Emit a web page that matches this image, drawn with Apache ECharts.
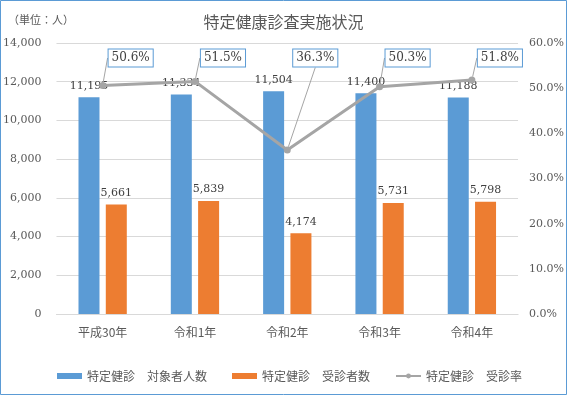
<!DOCTYPE html>
<html><head><meta charset="utf-8">
<script src="https://cdn.jsdelivr.net/npm/echarts@6/dist/echarts.min.js"></script>
<style>html,body{margin:0;padding:0;background:#fff}#c{width:567px;height:395px}</style>
</head><body><div id="c"></div>
<script>
const categories = ['平成30年','令和1年','令和2年','令和3年','令和4年'];
const targetCounts = [11195, 11334, 11504, 11400, 11188];
const examinedCounts = [5661, 5839, 4174, 5731, 5798];
const examRates = [0.506, 0.515, 0.363, 0.503, 0.518];
const seriesNames = ['特定健診　対象者人数','特定健診　受診者数','特定健診　受診率'];

const NUMF = "'DejaVu Serif','Noto Sans CJK JP'";
const JPF = "'Noto Sans CJK JP'";
const TXT = '#595959';

const chart = echarts.init(document.getElementById('c'), null, {renderer:'canvas'});
chart.setOption({
  animation:false,
  backgroundColor:'#fff',
  title:{text:'特定健康診査実施状況', left:'center', top:9,
    textStyle:{fontFamily:JPF, fontSize:16, fontWeight:'normal', color:TXT}},
  graphic:[
    {type:'rect', shape:{x:0.5,y:0.5,width:566,height:394}, style:{fill:null, stroke:'#5b9bd5', lineWidth:1}, silent:true},
    {type:'text', left:8, top:14, style:{text:'（単位：人）', font:"11px 'Noto Sans CJK JP'", fill:TXT}}
  ],
  grid:{left:53, right:46, top:43, bottom:81},
  legend:{bottom:8, left:52, itemGap:25, itemWidth:25, itemHeight:6,
    textStyle:{fontFamily:JPF, fontSize:12, color:TXT},
    data:[{name:seriesNames[0], icon:'rect'},{name:seriesNames[1], icon:'rect'},{name:seriesNames[2]}]},
  xAxis:{type:'category', data:categories,
    axisLine:{lineStyle:{color:'#d9d9d9'}}, axisTick:{show:false},
    axisLabel:{fontFamily:JPF, fontSize:12, color:TXT, margin:12}},
  yAxis:[
    {type:'value', min:0, max:14000, interval:2000,
     axisLabel:{fontFamily:NUMF, fontSize:11, color:TXT, margin:15,
       formatter:v=>v.toLocaleString('en-US')},
     splitLine:{lineStyle:{color:'#d9d9d9'}}, axisLine:{show:false}, axisTick:{show:false}},
    {type:'value', min:0, max:0.6, interval:0.1, position:'right',
     axisLabel:{fontFamily:NUMF, fontSize:11, color:TXT, margin:11,
       formatter:v=>(v*100).toFixed(1)+'%'},
     splitLine:{show:false}, axisLine:{show:false}, axisTick:{show:false}}
  ],
  series:[
    {name:seriesNames[0], type:'bar', data:targetCounts, barWidth:21, barGap:'30%',
     itemStyle:{color:'#5b9bd5'},
     label:{show:true, position:'top', distance:6, fontFamily:NUMF, fontSize:11, color:'#404040',
       formatter:p=>p.value.toLocaleString('en-US')}},
    {name:seriesNames[1], type:'bar', data:examinedCounts, barWidth:21,
     itemStyle:{color:'#ed7d31'},
     label:{show:true, position:'top', distance:6, fontFamily:NUMF, fontSize:11, color:'#404040',
       formatter:p=>p.value.toLocaleString('en-US')}},
    {name:seriesNames[2], type:'line', yAxisIndex:1, data:examRates, z:5,
     symbol:'circle', symbolSize:7,
     lineStyle:{color:'#a5a5a5', width:3}, itemStyle:{color:'#a5a5a5'},
     label:{show:true, position:'top', fontFamily:NUMF, fontSize:12, color:'#404040',
       backgroundColor:'#fff', borderColor:'#5b9bd5', borderWidth:1, padding:[3,3,2,3],
       formatter:p=>(p.value*100).toFixed(1)+'%'},
     labelLine:{show:true, lineStyle:{color:'#a5a5a5', width:1}},
     labelLayout:function(params){
       const r = params.rect;
       return {x: r.x + r.width/2 + 28, y: 58, align:'center', verticalAlign:'middle'};
     }}
  ]
});
</script></body></html>
